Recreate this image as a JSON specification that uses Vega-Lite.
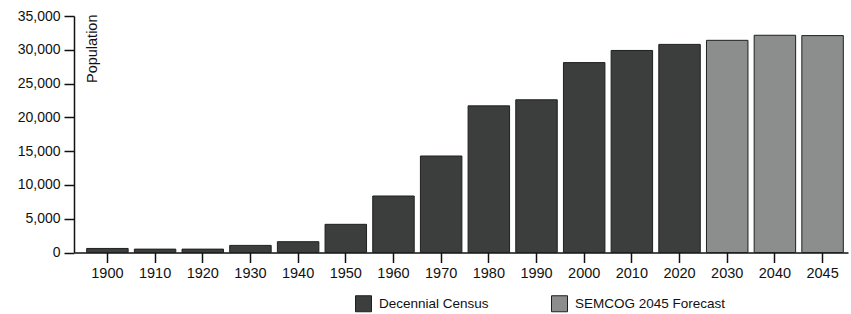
{
  "$schema": "https://vega.github.io/schema/vega-lite/v6.json",
  "autosize": {"type": "none"},
  "padding": {"left": 74, "top": 16, "right": 3, "bottom": 61.5},
  "width": 774,
  "height": 236.5,
  "background": "white",
  "config": {
    "font": "Liberation Sans",
    "view": {"stroke": null}
  },
  "data": {
    "values": [
      {"year": "1900", "population": 600, "series": "Decennial Census"},
      {"year": "1910", "population": 500, "series": "Decennial Census"},
      {"year": "1920", "population": 500, "series": "Decennial Census"},
      {"year": "1930", "population": 1050, "series": "Decennial Census"},
      {"year": "1940", "population": 1600, "series": "Decennial Census"},
      {"year": "1950", "population": 4170, "series": "Decennial Census"},
      {"year": "1960", "population": 8360, "series": "Decennial Census"},
      {"year": "1970", "population": 14280, "series": "Decennial Census"},
      {"year": "1980", "population": 21700, "series": "Decennial Census"},
      {"year": "1990", "population": 22600, "series": "Decennial Census"},
      {"year": "2000", "population": 28100, "series": "Decennial Census"},
      {"year": "2010", "population": 29900, "series": "Decennial Census"},
      {"year": "2020", "population": 30800, "series": "Decennial Census"},
      {"year": "2030", "population": 31400, "series": "SEMCOG 2045 Forecast"},
      {"year": "2040", "population": 32150, "series": "SEMCOG 2045 Forecast"},
      {"year": "2045", "population": 32100, "series": "SEMCOG 2045 Forecast"}
    ]
  },
  "mark": {"type": "bar", "stroke": "#1e201f", "strokeWidth": 1},
  "encoding": {
    "x": {
      "field": "year",
      "type": "ordinal",
      "sort": null,
      "scale": {"paddingInner": 0.13, "paddingOuter": 0.182, "align": 0.73},
      "axis": {
        "title": null,
        "labelAngle": 0,
        "labelFontSize": 14.5,
        "labelColor": "#111111",
        "labelPadding": 4,
        "tickSize": 10,
        "tickWidth": 1.5,
        "tickColor": "#111111",
        "domainColor": "#111111",
        "domainWidth": 1.5
      }
    },
    "y": {
      "field": "population",
      "type": "quantitative",
      "scale": {"domain": [0, 35000], "nice": false},
      "axis": {
        "values": [0, 5000, 10000, 15000, 20000, 25000, 30000, 35000],
        "format": ",d",
        "grid": false,
        "labelFontSize": 14,
        "labelColor": "#111111",
        "labelPadding": 4,
        "tickSize": 10,
        "tickWidth": 1.5,
        "tickColor": "#111111",
        "domainColor": "#111111",
        "domainWidth": 1.5,
        "title": "Population",
        "titleFontSize": 14.5,
        "titleFontWeight": "normal",
        "titleColor": "#111111",
        "titleAngle": -90,
        "titleAlign": "right",
        "titleBaseline": "top",
        "titleX": 11,
        "titleY": -2
      }
    },
    "fill": {
      "field": "series",
      "type": "nominal",
      "scale": {"domain": ["Decennial Census", "SEMCOG 2045 Forecast"], "range": ["#3b3e3c", "#8b8e8c"]},
      "legend": {
        "title": null,
        "orient": "none",
        "direction": "horizontal",
        "legendX": 281,
        "legendY": 279,
        "symbolType": "square",
        "symbolSize": 256,
        "symbolStrokeColor": "#1e201f",
        "symbolStrokeWidth": 1,
        "labelFontSize": 13.5,
        "labelColor": "#111111",
        "labelOffset": 7,
        "columnPadding": 60
      }
    }
  }
}
